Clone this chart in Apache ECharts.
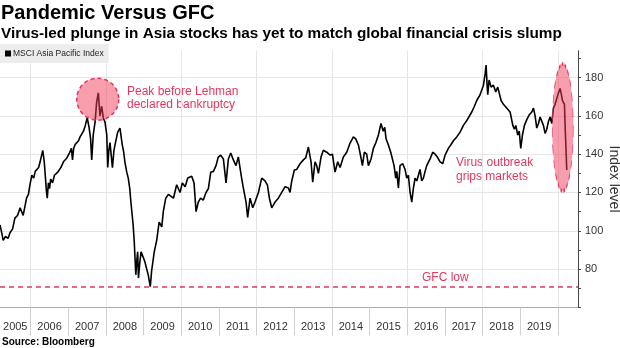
<!DOCTYPE html>
<html>
<head>
<meta charset="utf-8">
<script src="https://cdn.jsdelivr.net/npm/echarts@6/dist/echarts.min.js"></script>
<style>html,body{margin:0;padding:0;background:#fff}#c{width:620px;height:348px}</style>
</head>
<body>
<div id="c"></div>
<script>
const dates = [2005.185,2005.23,2005.27,2005.33,2005.40,2005.45,2005.52,2005.58,2005.65,2005.72,2005.76,2005.80,2005.85,2005.89,2005.94,2005.98,
2006.03,2006.08,2006.12,2006.16,2006.21,2006.25,2006.32,2006.36,2006.39,2006.42,2006.44,2006.47,2006.50,2006.53,2006.58,2006.63,2006.68,2006.72,2006.76,2006.80,2006.87,2006.92,2006.96,
2007.04,2007.08,2007.11,2007.14,2007.18,2007.22,2007.27,2007.31,2007.36,2007.40,2007.45,2007.50,2007.55,2007.59,2007.62,2007.66,2007.71,2007.75,2007.795,2007.84,2007.885,2007.93,2007.97,
2008.02,2008.045,2008.075,2008.105,2008.14,2008.17,2008.21,2008.24,2008.31,2008.37,2008.43,2008.47,2008.50,2008.55,2008.59,2008.63,2008.66,2008.72,2008.75,2008.79,2008.82,2008.84,2008.86,2008.90,2008.93,2008.99,
2009.035,2009.08,2009.12,2009.175,2009.21,2009.28,2009.345,2009.41,2009.48,2009.52,2009.585,2009.655,2009.70,2009.79,2009.875,2009.965,
2010.025,2010.10,2010.17,2010.275,2010.336,2010.39,2010.45,2010.51,2010.58,2010.655,2010.717,2010.78,2010.85,2010.92,2010.98,
2011.044,2011.115,2011.186,2011.248,2011.31,2011.38,2011.45,2011.513,2011.557,2011.60,2011.646,2011.717,2011.76,2011.823,2011.894,2011.956,
2012.045,2012.133,2012.222,2012.284,2012.337,2012.399,2012.487,2012.576,2012.664,2012.753,2012.842,2012.885,2012.93,
2013.0,2013.062,2013.151,2013.239,2013.301,2013.372,2013.443,2013.487,2013.549,2013.593,2013.638,2013.708,2013.77,2013.859,2013.948,
2014.01,2014.08,2014.151,2014.213,2014.301,2014.39,2014.479,2014.567,2014.629,2014.70,2014.77,2014.806,2014.859,2014.921,2014.965,
2015.036,2015.098,2015.16,2015.231,2015.30,2015.36,2015.40,2015.434,2015.496,2015.558,2015.611,2015.647,2015.691,2015.718,2015.762,2015.806,2015.877,2015.939,2015.983,
2016.027,2016.072,2016.116,2016.16,2016.204,2016.249,2016.293,2016.337,2016.381,2016.426,2016.47,2016.514,2016.603,2016.673,2016.735,2016.797,2016.868,2016.939,
2017.001,2017.089,2017.151,2017.222,2017.311,2017.399,2017.488,2017.559,2017.621,2017.709,2017.771,2017.842,2017.87,2017.93,2017.975,
2018.02,2018.064,2018.09,2018.117,2018.134,2018.17,2018.223,2018.285,2018.347,2018.40,2018.435,2018.488,2018.55,2018.612,2018.665,2018.727,2018.77,2018.80,2018.842,2018.878,2018.931,2018.97,
2019.01,2019.055,2019.108,2019.17,2019.232,2019.303,2019.347,2019.391,2019.435,2019.48,2019.524,2019.568,2019.612,2019.657,2019.70,2019.745,2019.79,2019.834,2019.878,2019.922,2019.967,
2020.011,2020.055,2020.099,2020.117,2020.143,2020.17,2020.188,2020.214,2020.232];

const msci = [103,99,95,97,96,99,101,106.6,108,112,113,108,113,117,119,124,
129,127.5,131,130.6,133,136,142,136,128,120,117,125,122,127,125,129,128,130.6,130,133,136,135,138,
141,143,137,143,145,146,147,149,150,152,155,159,154,148,137,150,157,167,172,160,165,158.6,157,
150,133,142,146,139,133,142,145,151.5,153.6,145,141,136,130.6,127.5,122,115,103,94,77,85,89,75.3,84,89,86,
83.6,80,77,70.8,79,89,95,104.5,102,110,117,119,120,117,124,120,
125,123,127.5,128.5,125,110,115,117,116,120,122,130.6,131,134,138.5,
139.5,137.5,125,137.5,140.6,137,134,138.5,139.5,127.5,122.3,115,107,117,112,115,
120,127.5,126,124,117,112,115,117,120,123,122.3,120,126,
131.7,132,135,137,138,143.7,136,125.4,136,134,130,138.5,142,141,139.5,
140,130.6,136,133,138.5,141,145.8,149,148,144.8,138,134,141,140,134,
137.5,143,145.8,150,156,152,154,148,144.8,141,140.6,134,127.5,131,122.3,134,135,132,127.5,
129,120,115,122.3,127.5,126,129,132,126,127.5,131,134,137.5,141,140,138.5,136,135,
139.5,143,144.8,147,149,151.5,155,157,159,162,164.6,168,169,171,172,
176,182,186.5,176,171,178.7,175,176,172.5,175,176,168,166,164.6,165.5,162,163,155,153,155,150,152,
143,150,155,158,160.4,162,164,160,153.6,156,159.4,160,155,150.8,153,157,159.4,156,164,166,169,
172,174.3,170,168,167.6,166,155,141,131.7];

const yearTicks = [2006,2007,2008,2009,2010,2011,2012,2013,2014,2015,2016,2017,2018,2019,2020];
const yearLabelPos = [2005.59,2006.5,2007.5,2008.5,2009.5,2010.5,2011.5,2012.5,2013.5,2014.5,2015.5,2016.5,2017.5,2018.5,2019.5];
const yTicks = [60,70,80,90,100,110,120,130,140,150,160,170,180,190];
const yLabels = [80,100,120,140,160,180];
const gfcLow = 70.6;
const peakMark = [2007.78, 168.7];
const virusMark = [2020.125, 153.9];

const RED = '#e5375c';
const FONT = 'Liberation Sans';
const chart = echarts.init(document.getElementById('c'), null, {renderer:'canvas'});
chart.setOption({
  animation: false,
  textStyle: {fontFamily: FONT},
  title: [
    {text: 'Pandemic Versus GFC', left: 1, top: 3, padding: 0,
     textStyle: {fontFamily: FONT, fontWeight: 'bold', fontSize: 20, color: '#000'}},
    {text: 'Virus-led plunge in Asia stocks has yet to match global financial crisis slump', left: 1, top: 26, padding: 0,
     textStyle: {fontFamily: FONT, fontWeight: 'bold', fontSize: 15.3, color: '#000'}},
    {text: 'Source: Bloomberg', left: 2, top: 337, padding: 0,
     textStyle: {fontFamily: FONT, fontWeight: 'bold', fontSize: 10, color: '#000'}}
  ],
  legend: {
    left: 0, top: 44, padding: [5, 5, 5, 5],
    backgroundColor: '#ececec',
    icon: 'rect', itemWidth: 6, itemHeight: 6,
    textStyle: {fontFamily: FONT, fontSize: 8.5, color: '#222', padding: [0,0,0,-3]},
    data: ['MSCI Asia Pacific Index']
  },
  grid: {left: 0, right: 42, top: 50.7, bottom: 40.6, containLabel: false, outerBoundsMode: 'none'},
  xAxis: {
    type: 'value', min: 2005.185, max: 2020.53,
    axisLine: {show: true, lineStyle: {color: '#aaa', width: 1}},
    axisTick: {show: true, customValues: yearTicks, length: 28, lineStyle: {color: '#d0d0d0'}},
    axisLabel: {customValues: yearLabelPos, formatter: v => String(Math.floor(v)), margin: 14,
      fontFamily: FONT, fontSize: 11, color: '#333'},
    splitLine: {show: true, lineStyle: {color: ['#e6e6e6', 'rgba(0,0,0,0)'], width: 1}}
  },
  yAxis: {
    type: 'value', position: 'right', min: 60, max: 194,
    name: 'Index level', nameLocation: 'middle', nameRotate: -90, nameGap: 29, nameMoveOverlap: false,
    nameTextStyle: {fontFamily: FONT, fontSize: 14, color: '#333'},
    axisLine: {show: true, lineStyle: {color: '#444', width: 1}},
    axisTick: {show: true, customValues: yTicks, length: 3, lineStyle: {color: '#444'}},
    axisLabel: {customValues: yLabels, margin: 7, fontFamily: FONT, fontSize: 11, color: '#333'},
    splitLine: {show: true, lineStyle: {color: ['#e6e6e6', 'rgba(0,0,0,0)'], width: 1}}
  },
  series: [{
    name: 'MSCI Asia Pacific Index',
    type: 'line', showSymbol: false, symbol: 'none',
    data: dates.map((d, i) => [d, msci[i]]),
    lineStyle: {color: '#000', width: 1.6},
    itemStyle: {color: '#000'},
    markLine: {
      silent: true, symbol: 'none', label: {show: false},
      lineStyle: {color: RED, type: [5, 4], width: 1.5},
      data: [{yAxis: gfcLow}]
    },
    markPoint: {
      silent: true, label: {show: false},
      data: [
        {coord: peakMark, symbol: 'circle', symbolSize: 42,
         itemStyle: {color: 'rgba(240,60,90,0.5)', borderColor: RED, borderType: [4,3], borderWidth: 1.5}},
        {coord: virusMark, symbol: 'circle', symbolSize: [21, 127],
         itemStyle: {color: 'rgba(240,60,90,0.5)', borderColor: RED, borderType: [4,3], borderWidth: 1.5}}
      ]
    }
  }],
  graphic: [
    {type: 'text', left: 127, top: 85, style: {text: 'Peak before Lehman\ndeclared bankruptcy', fill: RED, font: '12px "Liberation Sans"', lineHeight: 13}},
    {type: 'text', left: 456, top: 156, style: {text: 'Virus outbreak\ngrips markets', fill: RED, font: '12px "Liberation Sans"', lineHeight: 14}},
    {type: 'text', left: 422, top: 272, style: {text: 'GFC low', fill: RED, font: '12px "Liberation Sans"'}}
  ]
});
</script>
</body>
</html>
